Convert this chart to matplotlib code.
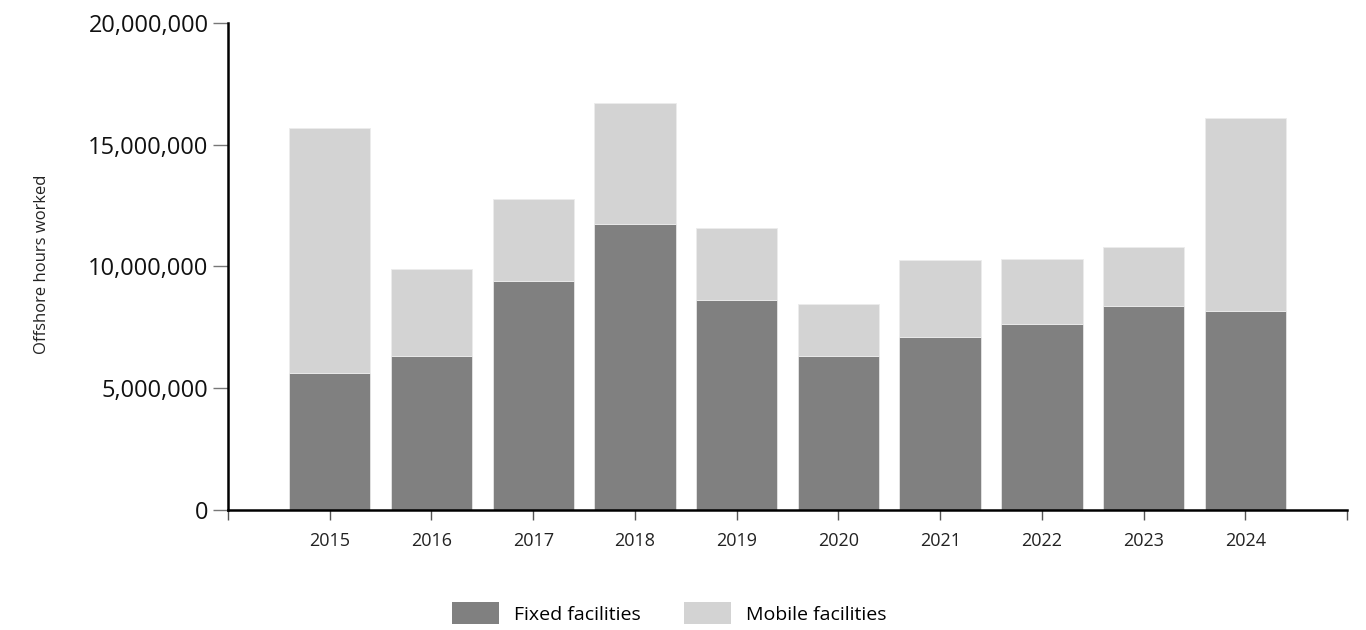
import numpy as np
import matplotlib.pyplot as plt
from matplotlib.ticker import FuncFormatter
from matplotlib.patches import Patch

years = ["2015", "2016", "2017", "2018", "2019", "2020", "2021", "2022", "2023", "2024"]
fixed_hours = [5620000, 6330000, 9380000, 11750000, 8620000, 6320000, 7100000, 7630000, 8370000, 8170000]
total_hours = [15690000, 9900000, 12770000, 16690000, 11570000, 8450000, 10260000, 10300000, 10790000, 16090000]
mobile_hours = [t - f for t, f in zip(total_hours, fixed_hours)]

plt.rcParams["font.family"] = ["Open Sans", "DejaVu Sans"]

fig = plt.figure(figsize=(13.66, 6.3), dpi=100)
ax = fig.add_axes([0.1669, 0.1905, 0.8193, 0.7735])

x = np.arange(len(years))
ax.bar(x, fixed_hours, width=0.8, color="#808080", edgecolor="#e6e6e6", linewidth=0.6)
ax.bar(x, mobile_hours, width=0.8, bottom=fixed_hours, color="#d3d3d3", edgecolor="#ececec", linewidth=0.6)

ax.set_xlim(-1, len(years))
ax.set_ylim(0, 20000000)
ax.set_yticks([0, 5000000, 10000000, 15000000, 20000000])
ax.yaxis.set_major_formatter(FuncFormatter(lambda v, p: f"{int(v):,}"))
ax.tick_params(axis="y", labelsize=17, length=11, width=1, color="#777777", pad=3, labelcolor="#111111")

ax.set_xticks(np.arange(-1, len(years) + 1))
ax.set_xticklabels([""] + years + [""])
ax.tick_params(axis="x", labelsize=13, length=7, width=1, color="#555555", pad=9, labelcolor="#222222")

for side in ["top", "right"]:
    ax.spines[side].set_visible(False)
ax.spines["left"].set_linewidth(1.8)
ax.spines["bottom"].set_linewidth(1.8)

fig.text(0.031, 0.581, "Offshore hours worked", rotation=90, ha="center", va="center",
         fontsize=12, color="#222222")

handles = [Patch(facecolor="#808080", label="Fixed facilities"),
           Patch(facecolor="#d3d3d3", label="Mobile facilities")]
fig.legend(handles=handles, loc="center", bbox_to_anchor=(0.49, 0.027), ncol=2, frameon=False,
           fontsize=14, handlelength=2.4, handleheight=1.3, columnspacing=2.2, handletextpad=0.8)

fig.savefig("out.png", dpi=100)
